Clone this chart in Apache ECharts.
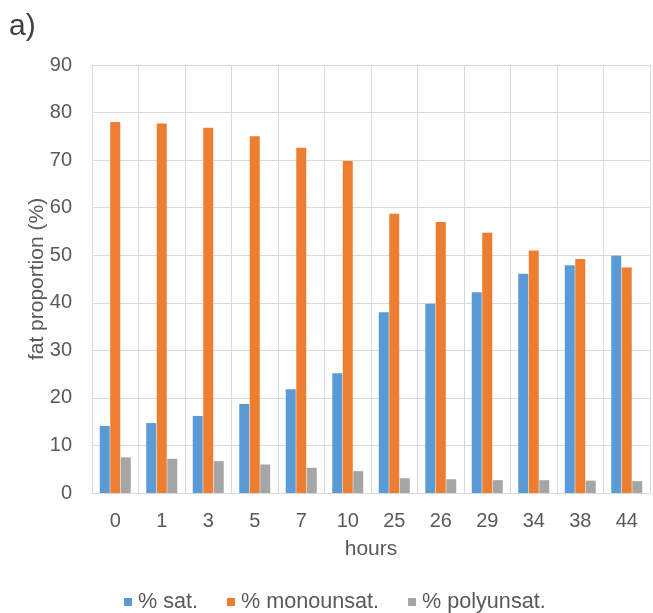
<!DOCTYPE html>
<html>
<head>
<meta charset="utf-8">
<script src="https://cdn.jsdelivr.net/npm/echarts@6/dist/echarts.min.js"></script>
<style>
html,body{margin:0;padding:0;background:#fff;}
#c{width:653px;height:613px;}
</style>
</head>
<body>
<div id="c"></div>
<script>
const hours = ['0','1','3','5','7','10','25','26','29','34','38','44'];
const sat = [14.1, 14.7, 16.2, 18.7, 21.8, 25.2, 38.0, 39.8, 42.2, 46.1, 47.9, 49.9];
const monounsat = [78.0, 77.7, 76.8, 75.0, 72.6, 69.8, 58.7, 57.0, 54.7, 51.0, 49.2, 47.4];
const polyunsat = [7.5, 7.2, 6.7, 6.0, 5.3, 4.6, 3.1, 2.9, 2.7, 2.7, 2.6, 2.5];
const seriesNames = ['% sat.', '% monounsat.', '% polyunsat.'];
const colors = ['#5B9BD5', '#ED7D31', '#A5A5A5'];

const textColor = '#595959';
const font = 'Liberation Sans, Arial, sans-serif';
const chart = echarts.init(document.getElementById('c'), null, {renderer:'canvas'});
const mk = (name, data, color) => ({
  name, type:'bar', data, barWidth:10, barGap:'5%',
  itemStyle:{color}, emphasis:{disabled:true}, animation:false
});
chart.setOption({
  animation:false,
  textStyle:{fontFamily:font, color:textColor},
  title:{text:'a)', left:4, top:7, textStyle:{fontFamily:font, fontSize:30, fontWeight:'normal', color:'#404040'}},
  grid:{left:92, right:3, top:65, bottom:120, containLabel:false, show:false},
  legend:{
    data:seriesNames, top:586, left:119, icon:'rect', itemWidth:8, itemHeight:8, itemGap:29,
    itemStyle:{borderWidth:0},
    textStyle:{fontFamily:font, fontSize:21.6, color:textColor, padding:[0,0,0,1]}
  },
  xAxis:{
    type:'category', data:hours, name:'hours', nameLocation:'middle', nameGap:46,
    nameTextStyle:{fontFamily:font, fontSize:21, color:textColor},
    axisLine:{lineStyle:{color:'#D9D9D9'}}, axisTick:{show:false},
    axisLabel:{fontFamily:font, fontSize:20, color:textColor, margin:18},
    splitLine:{show:true, lineStyle:{color:'#D9D9D9'}}
  },
  yAxis:{
    type:'value', min:0, max:90, interval:10, name:'fat proportion (%)', nameLocation:'middle', nameGap:44,
    nameMoveOverlap:false,
    nameTextStyle:{fontFamily:font, fontSize:21, color:textColor},
    axisLine:{show:true, lineStyle:{color:'#D9D9D9'}}, axisTick:{show:false},
    axisLabel:{fontFamily:font, fontSize:20, color:textColor, margin:20},
    splitLine:{show:true, lineStyle:{color:'#D9D9D9'}}
  },
  series:[mk(seriesNames[0], sat, colors[0]), mk(seriesNames[1], monounsat, colors[1]), mk(seriesNames[2], polyunsat, colors[2])]
});
</script>
</body>
</html>
